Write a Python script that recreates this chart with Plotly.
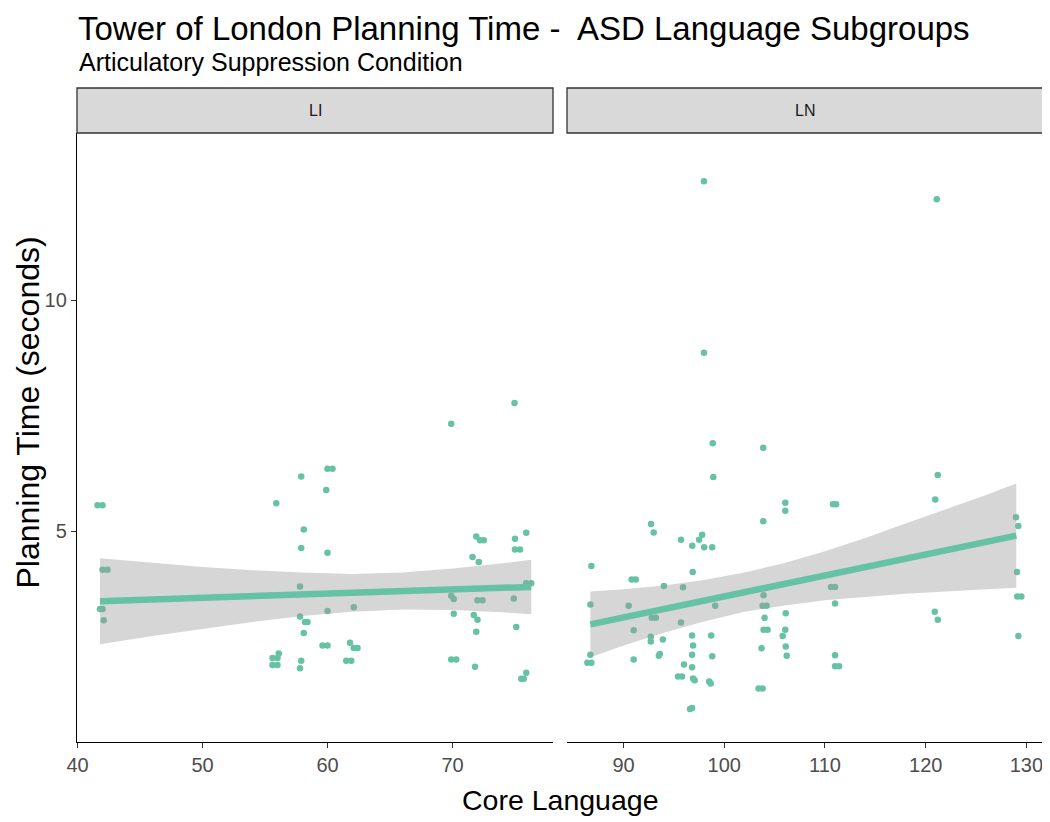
import plotly.graph_objects as go

# ---------------- data ----------------
li_x = [41.6, 42.0, 42.0, 42.4, 41.8, 42.0, 42.1,
        55.9, 57.9, 58.1, 57.9, 57.8, 57.8, 58.2, 58.4, 58.1, 56.1,
        55.6, 56.0, 55.6, 56.0, 57.9, 57.8,
        74.96, 69.9, 60.0, 60.4, 59.9, 60.0,
        71.9, 72.2, 72.5, 75.0, 75.9, 75.0, 75.4, 71.6, 72.1,
        75.9, 76.3, 69.9, 70.1, 72.0, 72.4, 74.9,
        60.0, 62.1, 70.1, 71.7, 72.0, 75.1, 71.9,
        59.6, 60.0, 61.8, 62.1, 62.4, 61.5, 61.9,
        69.9, 70.3, 71.8, 75.9, 75.7, 75.5]
li_y = [5.56, 5.56, 4.16, 4.16, 3.31, 3.31, 3.07,
        5.60, 6.18, 5.03, 4.63, 3.80, 3.15, 3.03, 3.03, 2.79, 2.35,
        2.25, 2.25, 2.10, 2.10, 2.19, 2.03,
        7.77, 7.32, 6.35, 6.35, 5.89, 4.53,
        4.88, 4.80, 4.80, 4.83, 4.96, 4.60, 4.60, 4.44, 4.33,
        3.87, 3.87, 3.60, 3.53, 3.50, 3.50, 3.54,
        3.27, 3.35, 3.21, 3.18, 3.08, 2.92, 2.82,
        2.52, 2.52, 2.58, 2.47, 2.47, 2.19, 2.19,
        2.22, 2.22, 2.06, 1.93, 1.80, 1.80]

ln_x = [97.98, 97.98, 98.85, 103.87, 98.91, 106.06, 106.06, 103.87,
        92.72, 92.99, 95.7, 96.82, 97.8, 97.5, 98.0, 98.8,
        86.8, 90.8, 91.2, 96.86, 94.0, 95.9, 86.7, 90.5,
        92.8, 93.2, 95.7, 99.1, 103.9, 103.8, 104.2, 104.0,
        103.9, 104.3, 106.1, 106.06, 105.8, 103.7, 106.1, 106.2,
        91.0, 92.7, 92.7, 93.9, 93.6, 93.5, 96.8, 96.9, 96.8,
        98.7, 98.8, 86.7, 86.4, 86.8, 91.0, 96.0, 96.8,
        95.4, 95.8, 97.06, 96.9, 98.65, 98.5, 103.4, 103.8, 96.8, 96.6,
        110.8, 111.1, 110.6, 111.0, 111.0, 111.0, 111.0, 111.4,
        121.1, 121.2, 120.95, 128.97, 129.2, 129.07, 129.1, 129.5,
        120.9, 121.2, 129.2]
ln_y = [12.57, 8.86, 6.90, 6.80, 6.17, 5.61, 5.44, 5.21,
        5.15, 4.97, 4.81, 4.68, 4.92, 4.81, 4.65, 4.65,
        4.24, 3.95, 3.95, 4.11, 3.81, 3.78, 3.41, 3.38,
        3.12, 3.12, 3.02, 3.38, 3.61, 3.38, 3.38, 3.12,
        2.86, 2.86, 3.22, 2.86, 2.73, 2.46, 2.50, 2.30,
        2.85, 2.61, 2.71, 2.65, 2.34, 2.30, 2.74, 2.52, 2.32,
        2.74, 2.29, 2.32, 2.15, 2.15, 2.22, 2.11, 2.05,
        1.85, 1.85, 1.77, 1.81, 1.70, 1.74, 1.59, 1.59, 1.17, 1.15,
        5.58, 5.58, 3.79, 3.79, 3.43, 2.31, 2.07, 2.07,
        12.18, 6.21, 5.68, 5.30, 5.11, 4.11, 3.58, 3.58,
        3.25, 3.08, 2.73]

# fitted line and 95% band
li_fit_x = [41.8, 46, 50, 54, 58, 62, 66, 70, 74, 76.3]
li_fit_y = [3.48, 3.52, 3.55, 3.59, 3.63, 3.66, 3.70, 3.74, 3.77, 3.79]
li_upper = [4.41, 4.31, 4.22, 4.15, 4.10, 4.07, 4.10, 4.19, 4.30, 4.38]
li_lower = [2.55, 2.73, 2.88, 3.03, 3.16, 3.25, 3.30, 3.29, 3.24, 3.20]

ln_fit_x = [86.7, 90, 94, 98, 102, 106, 110, 114, 118, 122, 126, 129]
ln_fit_y = [2.98, 3.13, 3.31, 3.49, 3.67, 3.85, 4.03, 4.21, 4.40, 4.58, 4.76, 4.90]
ln_upper = [3.69, 3.74, 3.82, 3.94, 4.10, 4.31, 4.56, 4.85, 5.16, 5.47, 5.78, 6.03]
ln_lower = [2.27, 2.52, 2.80, 3.04, 3.25, 3.39, 3.50, 3.57, 3.64, 3.69, 3.74, 3.77]

panels = ["LI", "LN"]
li_ticks = [40, 50, 60, 70]
ln_ticks = [90, 100, 110, 120, 130]
y_ticks = [5, 10]

title = "Tower of London Planning Time -  ASD Language Subgroups"
subtitle = "Articulatory Suppression Condition"
x_title = "Core Language"
y_title = "Planning Time (seconds)"

# ---------------- styling ----------------
PT = "#66c2a5"
RIB = "rgba(153,153,153,0.4)"
FONT = "Liberation Sans, Arial, sans-serif"

fig = go.Figure()

def add_panel(px, py, fx, fy, lo, up, xa, ya):
    fig.add_trace(go.Scatter(x=px, y=py, mode="markers", xaxis=xa, yaxis=ya,
                             marker=dict(color=PT, size=6.5, line=dict(width=0)),
                             showlegend=False, hoverinfo="skip"))
    fig.add_trace(go.Scatter(x=fx + fx[::-1], y=up + lo[::-1], mode="lines",
                             fill="toself", fillcolor=RIB, line=dict(width=0),
                             xaxis=xa, yaxis=ya, showlegend=False, hoverinfo="skip"))
    fig.add_trace(go.Scatter(x=fx, y=fy, mode="lines", xaxis=xa, yaxis=ya,
                             line=dict(color=PT, width=6.5), showlegend=False,
                             hoverinfo="skip"))

add_panel(li_x, li_y, li_fit_x, li_fit_y, li_lower, li_upper, "x", "y")
add_panel(ln_x, ln_y, ln_fit_x, ln_fit_y, ln_lower, ln_upper, "x2", "y2")

# the page puts the figure 8px in from the top-left corner
OFF = 8
W, H = 1050 - OFF, 822 - OFF
ML, MR, MT, MB = 77 - OFF, 7, 133 - OFF, 80
pw = W - ML - MR
ph = H - MT - MB
d1 = [0, 476 / pw]
d2 = [490 / pw, 1]

axis_common = dict(showgrid=False, zeroline=False, showline=True, linecolor="black",
                   linewidth=1.3, ticks="outside", ticklen=5, tickwidth=1.2,
                   tickcolor="#333333", automargin=False,
                   tickfont=dict(family=FONT, size=20, color="#4d4d4d"))

yr = [0.433, 13.615]
fig.update_layout(
    width=W, height=H,
    margin=dict(l=ML, r=MR, t=MT, b=MB),
    paper_bgcolor="white", plot_bgcolor="white",
    xaxis=dict(domain=d1, range=[39.96, 78.04], tickvals=li_ticks, anchor="y", **axis_common),
    xaxis2=dict(domain=d2, range=[84.38, 131.65], tickvals=ln_ticks, anchor="y2", **axis_common),
    yaxis=dict(domain=[0, 1], range=yr, tickvals=y_ticks, anchor="x", **axis_common),
    yaxis2=dict(domain=[0, 1], range=yr, anchor="x2", showgrid=False, zeroline=False,
                showline=False, showticklabels=False, ticks=""),
    font=dict(family=FONT),
)

def py2paper(py):  # py given in window pixels
    return (H - MB - (py - OFF)) / ph

def px2paper(px):
    return (px - OFF - ML) / pw

strip_top = py2paper(88)
for dom, lab in zip([d1, d2], panels):
    fig.add_shape(type="rect", xref="paper", yref="paper", x0=dom[0], x1=dom[1],
                  y0=1, y1=strip_top, fillcolor="#d9d9d9",
                  line=dict(color="#333333", width=1.3), layer="above")
    fig.add_annotation(text=lab, xref="paper", yref="paper", x=(dom[0] + dom[1]) / 2,
                       y=py2paper(110.5), xanchor="center", yanchor="middle", showarrow=False,
                       font=dict(family=FONT, size=16, color="#1a1a1a"))

fig.add_annotation(text=title, xref="paper", yref="paper", x=0, y=py2paper(8.5),
                   xanchor="left", yanchor="top", showarrow=False, borderpad=0,
                   font=dict(family=FONT, size=33, color="black"))
fig.add_annotation(text=subtitle, xref="paper", yref="paper", x=0, y=py2paper(62),
                   xanchor="left", yanchor="middle", showarrow=False,
                   font=dict(family=FONT, size=25, color="black"))
fig.add_annotation(text=x_title, xref="paper", yref="paper", x=0.5, y=py2paper(800),
                   xanchor="center", yanchor="middle", showarrow=False,
                   font=dict(family=FONT, size=28.5, color="black"))
fig.add_annotation(text=y_title, xref="paper", yref="paper", x=px2paper(8.5), y=py2paper(413),
                   xanchor="left", yanchor="middle", showarrow=False, textangle=-90,
                   borderpad=0, font=dict(family=FONT, size=32, color="black"))

fig.write_html("out.html")
